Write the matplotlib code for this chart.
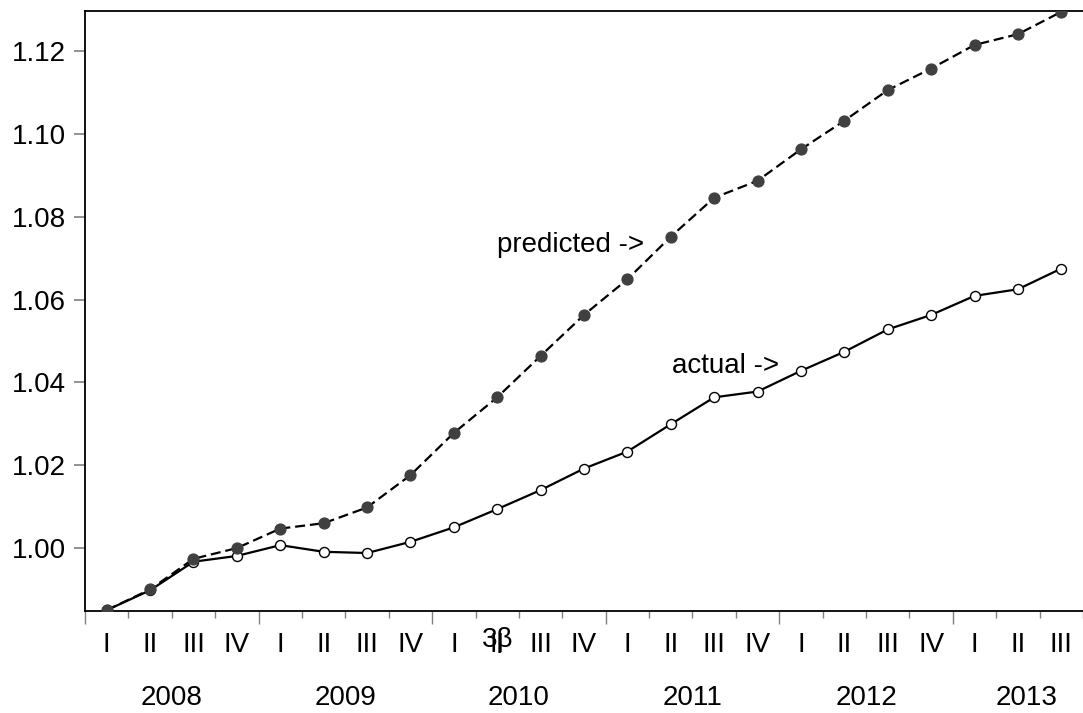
import matplotlib
matplotlib.use("Agg")
import matplotlib.pyplot as plt
import matplotlib.transforms as mtransforms
import numpy as np

plt.rcParams["font.family"] = ["Liberation Sans", "DejaVu Sans"]

# quarterly index, 2008Q1 .. 2013Q3
years = ["2008", "2009", "2010", "2011", "2012", "2013"]
quarters = ["I", "II", "III", "IV"] * 5 + ["I", "II", "III"]
actual = [0.9850, 0.9898, 0.9967, 0.9981, 1.0007, 0.9991, 0.9988, 1.0015,
          1.0050, 1.0094, 1.0140, 1.0192, 1.0233, 1.0299, 1.0364, 1.0378,
          1.0428, 1.0474, 1.0528, 1.0563, 1.0609, 1.0625, 1.0675]
predicted = [0.9850, 0.9900, 0.9974, 1.0000, 1.0047, 1.0060, 1.0098, 1.0176,
             1.0278, 1.0364, 1.0464, 1.0563, 1.0649, 1.0752, 1.0846, 1.0887,
             1.0963, 1.1032, 1.1106, 1.1158, 1.1215, 1.1241, 1.1295]

n = len(actual)
x = np.arange(n) + 0.5

fig = plt.figure(figsize=(10.83, 7.13), dpi=100)
ax = fig.add_axes([85 / 1083, 1 - 611 / 713, 998 / 1083, 600 / 713])

ax.plot(x, actual, "-", color="black", lw=1.6, marker="o", ms=7.2,
        mfc="white", mec="black", mew=1.0, zorder=3)
ax.plot(x, predicted, "--", color="black", lw=1.6, dashes=(4.5, 2.2),
        marker="o", ms=7.8, mfc="#404040", mec="#404040", zorder=4)

ax.set_xlim(0, n)
ax.set_ylim(0.9848, 1.1297)

# y axis
ax.set_yticks([1.00, 1.02, 1.04, 1.06, 1.08, 1.10, 1.12])
ax.set_yticklabels(["1.00", "1.02", "1.04", "1.06", "1.08", "1.10", "1.12"])
ax.tick_params(axis="y", direction="out", length=8, width=1.2,
               color="#808080", labelsize=20, pad=6)

# x axis: ticks on quarter boundaries, longer ones at year starts
ax.set_xticks(np.arange(0, n + 1))
ax.set_xticklabels([])
ax.tick_params(axis="x", direction="out", length=5, width=1.0, color="#808080")
for t in ax.xaxis.get_major_ticks():
    if int(round(t.get_loc())) % 4 == 0:
        t.tick1line.set_markersize(9)

trans = mtransforms.blended_transform_factory(ax.transData, ax.transAxes)
for i, q in enumerate(quarters):
    ax.text(x[i], -0.057, q, transform=trans, ha="center", va="center",
            fontsize=20)
year_pos = [2, 6, 10, 14, 18, 21.7]
for yr, p in zip(years, year_pos):
    ax.text(p, -0.145, yr, transform=trans, ha="center", va="center",
            fontsize=20)
ax.text(9.52, -0.049, "3β", transform=trans, ha="center", va="center",
        fontsize=20)

for s in ["left", "bottom", "top"]:
    ax.spines[s].set_linewidth(1.3)
ax.spines["right"].set_visible(False)

ax.text(9.49, 1.0732, "predicted ->", fontsize=20, ha="left", va="center")
ax.text(13.52, 1.0440, "actual ->", fontsize=20, ha="left", va="center")

fig.savefig("out.png", dpi=100)
